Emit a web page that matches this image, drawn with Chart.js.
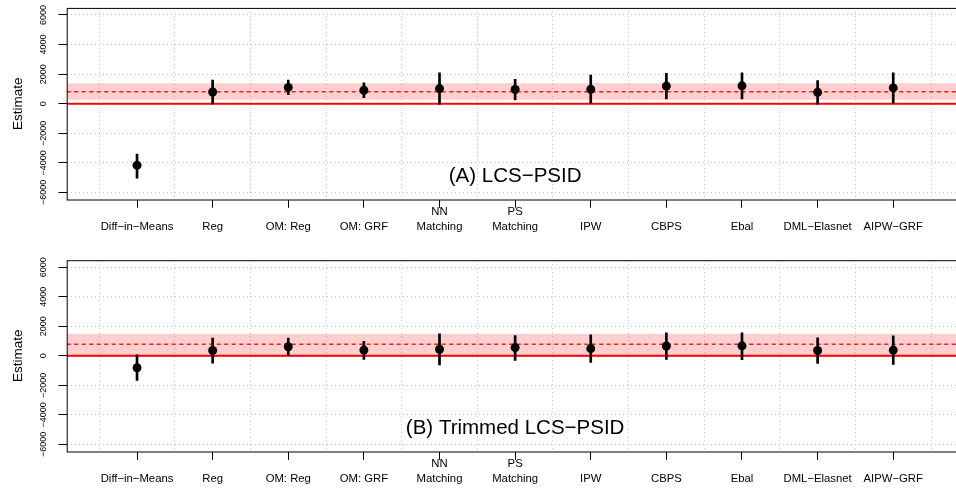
<!DOCTYPE html>
<html>
<head>
<meta charset="utf-8">
<script src="https://cdn.jsdelivr.net/npm/chart.js@4.4.0/dist/chart.umd.min.js"></script>
<style>
  html, body { margin: 0; padding: 0; background: #fff; overflow: hidden; width: 956px; height: 489px; }
  .panel { position: absolute; left: 0; width: 956px; height: 236px; }
</style>
</head>
<body>
<div class="panel" style="top:0"><canvas id="panelA" width="956" height="236"></canvas></div>
<div class="panel" style="top:252px"><canvas id="panelB" width="956" height="236"></canvas></div>
<script>
// categories (estimators), "\n" splits a label over two lines
const methods = ['Diff−in−Means', 'Reg', 'OM: Reg', 'OM: GRF', 'NN\nMatching', 'PS\nMatching',
                 'IPW', 'CBPS', 'Ebal', 'DML−Elasnet', 'AIPW−GRF'];
const yTicks = [-6000, -4000, -2000, 0, 2000, 4000, 6000];

// (A) LCS-PSID
const estA = [-4160, 790, 1100, 910, 1020, 960, 970, 1190, 1210, 770, 1070];
const loA  = [-5040, -20, 610, 400, -40, 260, 0, 320, 320, -40, 50];
const hiA  = [-3400, 1600, 1600, 1420, 2090, 1650, 1940, 2060, 2090, 1560, 2090];
const benchA = 810;
const bandA = [270, 1380];

// (B) Trimmed LCS-PSID
const estB = [-810, 360, 620, 390, 450, 560, 490, 670, 680, 360, 390];
const loB  = [-1670, -500, 0, -250, -620, -310, -450, -240, -260, -510, -580];
const hiB  = [70, 1200, 1200, 990, 1490, 1380, 1420, 1560, 1560, 1220, 1350];
const benchB = 790;
const bandB = [-70, 1500];

const X_MIN = 0.07, X_MAX = 11.83;
const Y_MIN = -6480, Y_MAX = 6480;
const FONT = "'Liberation Sans', Arial, Helvetica, sans-serif";

Chart.defaults.font.family = FONT;
Chart.defaults.color = '#000';

const framePlugin = {
  id: 'frame',
  afterDraw(chart, args, opts) {
    const {ctx, chartArea: a, scales} = chart;
    ctx.save();
    ctx.strokeStyle = '#000';
    ctx.lineWidth = 1;
    ctx.strokeRect(a.left + 0.5, a.top + 0.5, a.right - a.left + 10, a.bottom - a.top);
    ctx.font = '20.5px ' + FONT;
    ctx.textAlign = 'center';
    ctx.textBaseline = 'alphabetic';
    ctx.fillStyle = '#000';
    ctx.fillText(opts.text, scales.x.getPixelForValue((methods.length + 1) / 2), a.bottom - 17.8);
    ctx.restore();
  }
};

function hline(v, extra) {
  return Object.assign({
    type: 'line',
    data: [{x: X_MIN, y: v}, {x: X_MAX, y: v}],
    pointRadius: 0,
    fill: false
  }, extra);
}

function makePanel(id, title, est, lo, hi, bench, band, padTop) {
  new Chart(document.getElementById(id), {
    type: 'scatter',
    data: {
      datasets: [
        {
          type: 'scatter',
          data: est.map((v, i) => ({x: i + 1, y: v})),
          pointRadius: 4.5,
          pointBackgroundColor: '#000',
          pointBorderWidth: 0,
          order: 0
        },
        {
          type: 'bar',
          data: lo.map((v, i) => ({x: i + 1, y: [v, hi[i]]})),
          backgroundColor: '#000',
          barThickness: 2,
          grouped: false,
          order: 1
        },
        hline(0, {borderColor: '#ff0000', borderWidth: 2, order: 2}),
        hline(bench, {borderColor: '#ff1a1a', borderWidth: 1.4, borderDash: [4, 3.5], order: 3}),
        hline(band[1], {borderColor: 'transparent', borderWidth: 0, backgroundColor: 'rgba(255,0,0,0.19)', fill: '+1', order: 4}),
        hline(band[0], {borderColor: 'transparent', borderWidth: 0, order: 5})
      ]
    },
    options: {
      responsive: false,
      animation: false,
      devicePixelRatio: 1,
      layout: {autoPadding: false, padding: {top: padTop, left: 0, right: 0, bottom: 0}},
      plugins: {legend: {display: false}, tooltip: {enabled: false}, frame: {text: title}},
      scales: {
        x: {
          type: 'linear',
          position: 'bottom',
          min: X_MIN,
          max: X_MAX,
          offset: false,
          afterBuildTicks: s => { s.ticks = methods.map((m, i) => ({value: i + 1})); },
          afterFit: s => { s.height = 36.5; },
          ticks: {
            autoSkip: false,
            minRotation: 0,
            maxRotation: 0,
            padding: -3.8,
            color: '#000',
            font: {size: 11.3, lineHeight: '15px'},
            callback: v => {
              const parts = methods[v - 1].split('\n');
              return parts.length === 1 ? ['', parts[0]] : parts;
            }
          },
          grid: {drawOnChartArea: false, drawTicks: true, tickLength: 8.3, tickColor: '#000', tickWidth: 1, offset: false},
          border: {display: false}
        },
        xg: {
          type: 'linear',
          position: 'bottom',
          min: X_MIN,
          max: X_MAX,
          offset: false,
          afterBuildTicks: s => { s.ticks = [0].concat(methods.map((m, i) => i + 1)).map(v => ({value: v + 0.5})); },
          afterFit: s => { s.height = 0; },
          ticks: {display: false},
          grid: {drawTicks: false, color: '#c4c4c4', lineWidth: 1},
          border: {display: false, dash: [1, 3]}
        },
        y: {
          type: 'linear',
          min: Y_MIN,
          max: Y_MAX,
          afterBuildTicks: s => { s.ticks = yTicks.map(v => ({value: v})); },
          afterFit: s => { s.width = 66.7; },
          ticks: {
            color: '#000',
            font: {size: 9},
            minRotation: 90,
            maxRotation: 90,
            crossAlign: 'center',
            padding: 2.5,
            callback: v => String(v).replace('-', '−')
          },
          grid: {color: '#c4c4c4', lineWidth: 1, tickColor: '#000', tickLength: 8.3, tickWidth: 1, tickBorderDash: []},
          border: {display: false, dash: [1, 3]},
          title: {display: true, text: 'Estimate', color: '#000', font: {size: 13.5}, padding: {top: 9.7, bottom: 0}}
        }
      }
    },
    plugins: [framePlugin]
  });
}

makePanel('panelA', '(A) LCS−PSID', estA, loA, hiA, benchA, bandA, 7.9);
makePanel('panelB', '(B) Trimmed LCS−PSID', estB, loB, hiB, benchB, bandB, 8.2);
</script>
</body>
</html>
